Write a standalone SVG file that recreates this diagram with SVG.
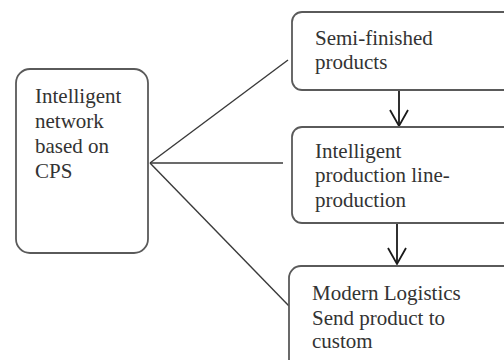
<svg xmlns="http://www.w3.org/2000/svg" width="504" height="360" viewBox="0 0 504 360">
  <defs>
    <style>
      .box { fill: #ffffff; stroke: #5a5a5a; stroke-width: 1.8; }
      .conn { fill: none; stroke: #3a3a3a; stroke-width: 1.4; }
      .arr { fill: none; stroke: #1a1a1a; stroke-width: 1.8; }
      .t { font-family: "Liberation Serif", "Times New Roman", serif; font-size: 21px; fill: #333333; }
    </style>
    <marker id="vhead" markerUnits="userSpaceOnUse" markerWidth="24" markerHeight="24" viewBox="-18 -12 20 24" refX="0" refY="0" orient="auto">
      <path d="M-16,-9 L0,0 L-16,9" fill="none" stroke="#1a1a1a" stroke-width="1.8"/>
    </marker>
  </defs>
  <rect width="504" height="360" fill="#ffffff"/>
  <g id="connectors">
    <line class="conn" x1="150" y1="163" x2="288" y2="60"/>
    <line class="conn" x1="150" y1="163" x2="283" y2="163"/>
    <line class="conn" x1="150" y1="163" x2="289" y2="306"/>
    <line class="arr" x1="399" y1="90" x2="399" y2="126" marker-end="url(#vhead)"/>
    <line class="arr" x1="397" y1="223" x2="397" y2="264" marker-end="url(#vhead)"/>
  </g>
  <g id="node-cps">
    <rect class="box" x="16" y="69" width="132" height="184" rx="14"/>
    <text class="t" x="35" y="103">Intelligent</text>
    <text class="t" x="35" y="128">network</text>
    <text class="t" x="35" y="153">based on</text>
    <text class="t" x="35" y="178">CPS</text>
  </g>
  <g id="node-semi">
    <rect class="box" x="292" y="12" width="240" height="78" rx="10"/>
    <text class="t" x="315" y="45">Semi-finished</text>
    <text class="t" x="315" y="69">products</text>
  </g>
  <g id="node-line">
    <rect class="box" x="292" y="127" width="240" height="96" rx="10"/>
    <text class="t" x="315" y="158">Intelligent</text>
    <text class="t" x="315" y="182">production line-</text>
    <text class="t" x="315" y="207">production</text>
  </g>
  <g id="node-logistics">
    <rect class="box" x="289" y="266" width="240" height="110" rx="12"/>
    <text class="t" x="312" y="300">Modern Logistics</text>
    <text class="t" x="312" y="325">Send product to</text>
    <text class="t" x="312" y="348">custom</text>
  </g>
</svg>
